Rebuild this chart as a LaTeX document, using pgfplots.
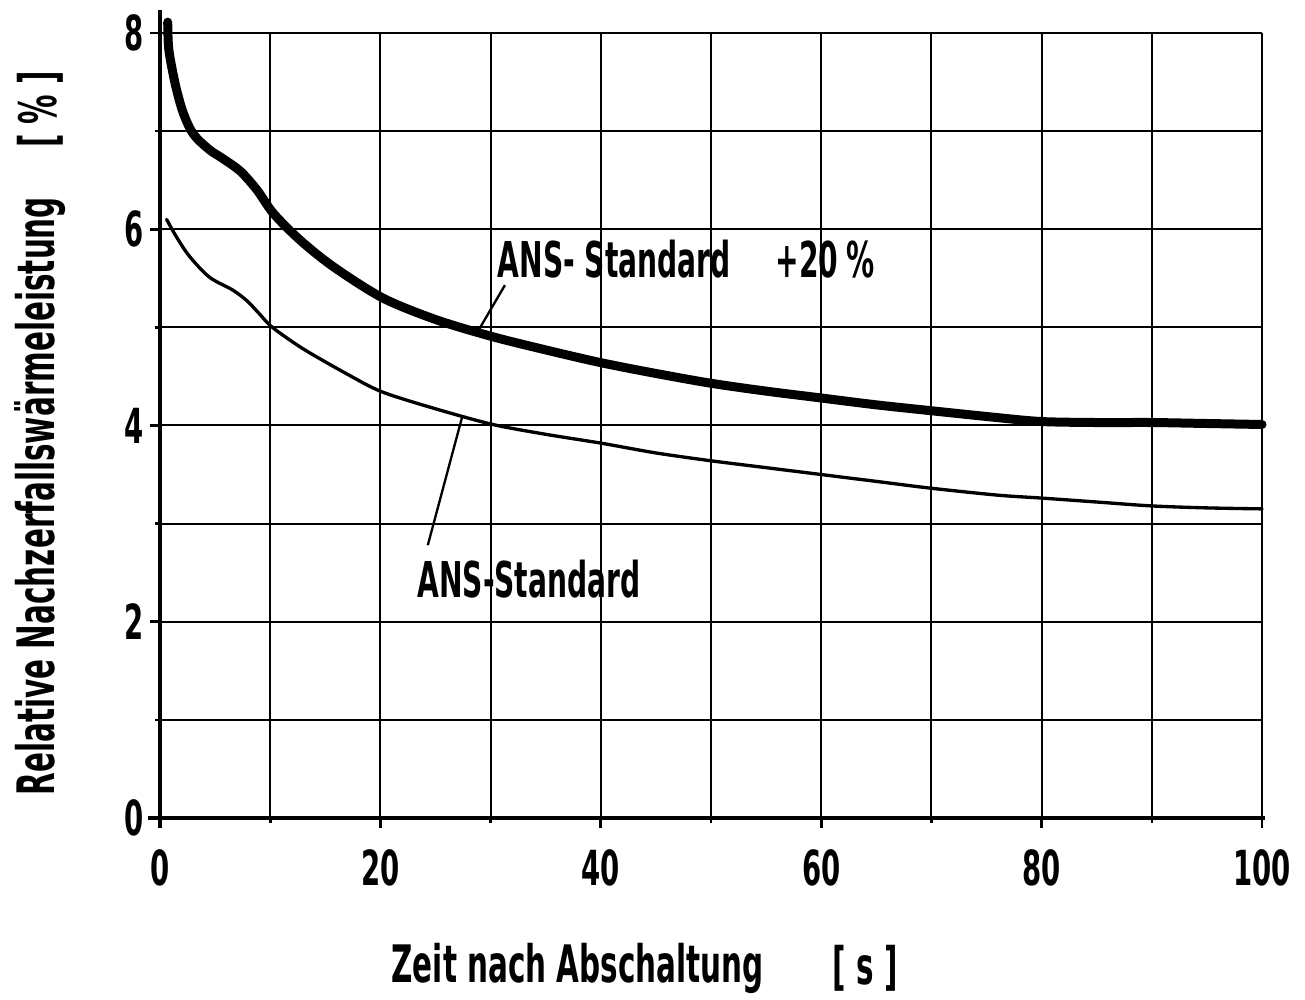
\documentclass[border=0pt]{standalone}
\usepackage{fontspec}
\setmainfont{DejaVu Sans Bold}[FakeStretch=0.57]
\usepackage{pgfplots}
\pgfplotsset{compat=1.18}
\begin{document}
\begin{tikzpicture}
\begin{axis}[
  scale only axis,
  width=330.6pt, height=235.5pt,
  xmin=0, xmax=100, ymin=0, ymax=8,
  axis lines=left,
  axis line style={-, line width=1.2pt},
  x axis line style={shorten <=-3.6pt, shorten >=-1pt},
  y axis line style={shorten <=-3pt, shorten >=-7pt},
  xtick={0,20,...,100}, minor xtick={10,30,...,90},
  ytick={0,2,...,8}, minor ytick={1,3,5,7},
  grid=both,
  major grid style={line width=0.6pt, black},
  minor grid style={line width=0.6pt, black},
  tick style={line width=0.8pt, black},
  tick align=outside,
  major tick length=3pt, minor tick length=1.5pt,
  /pgf/number format/assume math mode=true,
  ticklabel style={font=\fontsize{14.5}{16}\selectfont},
  xticklabel style={yshift=-3pt},
  yticklabel style={xshift=1.5pt},
  clip=false,
]
\addplot[black, line width=2.7pt, line cap=round, smooth, tension=0.5] coordinates {
(0.7,8.11)(0.8,7.83)(1.36,7.49)(2.0,7.22)(2.7,7.03)(3.4,6.92)(4.6,6.80)(5.7,6.72)(7.3,6.59)(8.8,6.40)(10.3,6.16)(12.7,5.89)(15.7,5.62)(20.2,5.30)(25,5.08)(30,4.91)(35,4.77)(40,4.64)(45,4.53)(50,4.43)(55,4.35)(60,4.28)(65,4.21)(70,4.15)(76,4.08)(80,4.04)(85,4.03)(90,4.03)(95,4.02)(100,4.01)
};
\addplot[black, line width=1pt, line cap=round, smooth, tension=0.5] coordinates {
(0.6,6.10)(1.5,5.92)(2.7,5.72)(4.5,5.51)(6.6,5.38)(7.9,5.27)(9.0,5.14)(10.2,5.00)(13,4.78)(17.2,4.51)(20.2,4.34)(25,4.17)(30.2,4.01)(35,3.91)(40,3.82)(45,3.72)(50,3.64)(55,3.57)(60,3.50)(65,3.43)(70,3.36)(76,3.29)(80,3.26)(85,3.22)(90,3.18)(95,3.16)(100,3.15)
};
\draw[line width=0.7pt] (axis cs:31.3,5.43) -- (axis cs:28.8,4.95);
\draw[line width=0.7pt] (axis cs:27.4,4.08) -- (axis cs:24.3,2.78);
\node[anchor=base west, inner sep=0pt, font=\fontsize{14.8}{16}\selectfont] at (axis cs:30.6,5.51) {ANS- Standard};
\node[anchor=base west, inner sep=0pt, font=\fontsize{14.8}{16}\selectfont] at (axis cs:55.8,5.51) {+20\,\%};
\node[anchor=base west, inner sep=0pt, font=\fontsize{14.8}{16}\selectfont] at (axis cs:23.3,2.25) {ANS-Standard};
\node[rotate=90, inner sep=0pt, font=\fontsize{15.5}{17}\selectfont] at (axis cs:-10.9,3.28) {Relative Nachzerfallswärmeleistung};
\node[rotate=90, inner sep=0pt, font=\fontsize{15.5}{17}\selectfont] at (axis cs:-10.9,7.22) {[ \% ]};
\node[inner sep=0pt, font=\fontsize{15.5}{17}\selectfont] at (axis cs:37.9,-1.53) {Zeit nach Abschaltung};
\node[inner sep=0pt, font=\fontsize{15.5}{17}\selectfont] at (axis cs:64.0,-1.53) {[ s ]};
\coordinate (bbA) at (axis cs:-14.52,8.336);
\coordinate (bbB) at (axis cs:103.9,-1.845);
\end{axis}
\pgfresetboundingbox
\path[use as bounding box] (bbA) rectangle (bbB);
\end{tikzpicture}
\end{document}
